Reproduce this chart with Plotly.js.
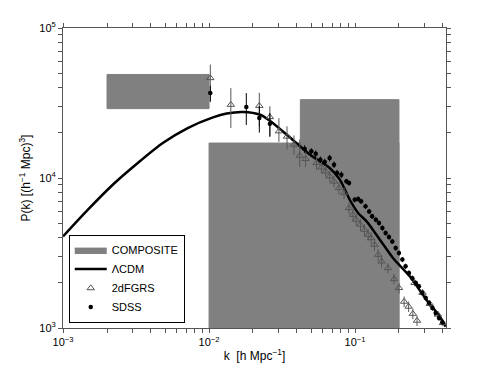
<!DOCTYPE html>
<html>
<head>
<meta charset="utf-8">
<script src="https://cdn.plot.ly/plotly-3.0.1.min.js"></script>
<style>
  html, body { margin: 0; padding: 0; background: #fff; }
  #plot { width: 490px; height: 370px; }
</style>
</head>
<body>
<div id="plot"></div>
<script>
// composite boxes (k range, P range)
var boxKmin = [0.002, 0.01, 0.0422];
var boxKmax = [0.01, 0.2, 0.2];
var boxPmin = [29000, 900, 900];
var boxPmax = [49000, 17100, 33300];

// LCDM model curve
var lcdmK = [0.001, 0.00148, 0.00219, 0.00325, 0.00482, 0.00714, 0.01064, 0.0132, 0.0171, 0.0224, 0.0262, 0.0359, 0.0492, 0.0671, 0.0787, 0.092, 0.105, 0.12, 0.148, 0.182, 0.237, 0.308, 0.38, 0.418];
var lcdmP = [4080, 6150, 9020, 12590, 17100, 21530, 25350, 26900, 27540, 26400, 24000, 18620, 14290, 11670, 9750, 7160, 5850, 5140, 3880, 2930, 2210, 1545, 1194, 1020];

// 2dFGRS points
var tdfK = [0.0102, 0.0141, 0.0221, 0.0261, 0.0301, 0.0342, 0.0382, 0.0418, 0.0459, 0.0545, 0.0589, 0.063, 0.0671, 0.0718, 0.0776, 0.0841, 0.091, 0.0968, 0.102, 0.109, 0.116, 0.123, 0.129, 0.136, 0.144, 0.152, 0.168, 0.185, 0.2, 0.217, 0.233, 0.249, 0.266, 0.256, 0.29, 0.325, 0.369, 0.4];
var tdfP = [46400, 30800, 30300, 25500, 20500, 18900, 16700, 14100, 13400, 12590, 11780, 11070, 10260, 9480, 8570, 7940, 6310, 5690, 5270, 4890, 4520, 4190, 3980, 3590, 3080, 2780, 2510, 2120, 1850, 1500, 1390, 1245, 1120, 2000, 1720, 1450, 1230, 1080];
var tdfErrUp = [0.23, 0.29, 0.22, 0.18, 0.22, 0.17, 0.15, 0.28, 0.12, 0.1, 0.09, 0.09, 0.09, 0.09, 0.09, 0.09, 0.09, 0.09, 0.09, 0.09, 0.09, 0.09, 0.09, 0.09, 0.09, 0.09, 0.08, 0.08, 0.08, 0.08, 0.08, 0.08, 0.08, 0.05, 0.05, 0.05, 0.05, 0.05];
var tdfErrDn = [0.31, 0.30, 0.27, 0.26, 0.15, 0.18, 0.15, 0.16, 0.12, 0.1, 0.09, 0.09, 0.09, 0.09, 0.09, 0.09, 0.09, 0.09, 0.09, 0.09, 0.09, 0.09, 0.09, 0.09, 0.09, 0.09, 0.08, 0.08, 0.08, 0.08, 0.08, 0.08, 0.08, 0.05, 0.05, 0.05, 0.05, 0.05];

// SDSS points
var sdssK = [0.0102, 0.018, 0.0221, 0.0261, 0.0452, 0.0502, 0.0538, 0.0579, 0.062, 0.067, 0.0718, 0.0753, 0.0806, 0.0873, 0.091, 0.0995, 0.105, 0.11, 0.118, 0.125, 0.131, 0.139, 0.146, 0.154, 0.162, 0.171, 0.18, 0.19, 0.2, 0.211, 0.222, 0.234, 0.247, 0.261, 0.274, 0.289, 0.305, 0.321, 0.339, 0.357, 0.376, 0.396];
var sdssP = [36850, 29700, 25100, 23000, 15600, 15060, 14520, 13240, 12790, 13590, 12270, 10800, 10520, 9500, 9270, 7170, 7250, 6990, 6470, 5990, 5550, 5270, 5010, 4640, 4300, 4040, 3780, 3410, 3160, 2860, 2580, 2330, 2150, 1995, 1895, 1710, 1585, 1470, 1360, 1260, 1165, 1092];
var sdssErr = [0.12, 0.24, 0.2, 0.18, 0.06, 0.05, 0.05, 0.05, 0.05, 0.05, 0.05, 0.05, 0.05, 0.04, 0.04, 0.04, 0.04, 0.04, 0.04, 0.04, 0.04, 0.04, 0.04, 0.04, 0.04, 0.04, 0.04, 0.04, 0.04, 0.04, 0.04, 0.04, 0.04, 0.04, 0.04, 0.04, 0.04, 0.04, 0.04, 0.04, 0.04, 0.04];

var decades = [0.001, 0.01, 0.1];
var decadeText = ['10<sup>−3</sup>', '10<sup>−2</sup>', '10<sup>−1</sup>'];
var yDecades = [1000, 10000, 100000];
var yDecadeText = ['10<sup>3</sup>', '10<sup>4</sup>', '10<sup>5</sup>'];

function logTicks(lo, hi, majors, majorText) {
  var vals = [], txt = [];
  for (var e = Math.round(Math.log10(lo)); Math.pow(10, e) <= hi * 1.0001; e++) {
    var d = Math.pow(10, e);
    for (var m = 1; m < 10; m++) {
      var v = d * m;
      if (v > hi * 1.0001) break;
      vals.push(v);
      txt.push(m === 1 ? majorText[majors.indexOf(d)] || '' : '');
    }
  }
  return { vals: vals, text: txt };
}
var xt = logTicks(0.001, 0.42, decades, decadeText);
var yt = logTicks(1000, 100000, yDecades, yDecadeText);

var boxX = [], boxY = [];
for (var i = 0; i < boxKmin.length; i++) {
  boxX.push(boxKmin[i], boxKmax[i], boxKmax[i], boxKmin[i], boxKmin[i], null);
  boxY.push(boxPmin[i], boxPmin[i], boxPmax[i], boxPmax[i], boxPmin[i], null);
}

var boxTrace = {
  x: boxX, y: boxY, type: 'scatter', mode: 'lines', fill: 'toself',
  fillcolor: '#808080', line: { color: '#808080', width: 1 },
  name: 'COMPOSITE', hoverinfo: 'skip'
};
var lcdmTrace = {
  x: lcdmK, y: lcdmP, type: 'scatter', mode: 'lines',
  line: { color: '#000', width: 2.5, shape: 'spline', smoothing: 0.8 },
  name: 'ΛCDM'
};
var tdfTrace = {
  x: tdfK, y: tdfP, type: 'scatter', mode: 'markers', name: '2dFGRS',
  marker: { symbol: 'triangle-up-open', size: 6.5, color: '#555', line: { width: 1 } },
  error_y: {
    type: 'data', symmetric: false,
    array: tdfP.map((p, i) => p * tdfErrUp[i]),
    arrayminus: tdfP.map((p, i) => p * tdfErrDn[i]),
    color: '#555', thickness: 1, width: 0
  }
};
var sdssTrace = {
  x: sdssK, y: sdssP, type: 'scatter', mode: 'markers', name: 'SDSS',
  marker: { symbol: 'circle', size: 4.5, color: '#000' },
  error_y: {
    type: 'data', array: sdssP.map((p, i) => p * sdssErr[i]),
    color: '#000', thickness: 1, width: 0
  }
};

var layout = {
  width: 490, height: 370,
  margin: { l: 63, r: 44, t: 28, b: 42 },
  paper_bgcolor: '#fff', plot_bgcolor: '#fff',
  font: { family: 'Liberation Sans, Arial, sans-serif', size: 11, color: '#000' },
  showlegend: true,
  legend: {
    x: 0.015, y: 0.018, xanchor: 'left', yanchor: 'bottom',
    bordercolor: '#000', borderwidth: 1, bgcolor: '#fff',
    font: { size: 11 }, itemwidth: 32, tracegroupgap: 0
  },
  xaxis: {
    type: 'log', range: [-3.0005, Math.log10(0.42)],
    tickvals: xt.vals, ticktext: xt.text, tickangle: 0, ticklabeloverflow: 'allow',
    ticks: 'outside', ticklen: 4, tickcolor: '#555',
    showline: true, linecolor: '#555', linewidth: 1, mirror: 'ticks',
    showgrid: false, zeroline: false,
    title: { text: 'k  [h Mpc<sup>−1</sup>]', font: { size: 12 }, standoff: 4 }
  },
  yaxis: {
    type: 'log', range: [3, 5],
    tickvals: yt.vals, ticktext: yt.text, ticklabeloverflow: 'allow',
    ticks: 'outside', ticklen: 4, tickcolor: '#555',
    showline: true, linecolor: '#555', linewidth: 1, mirror: 'ticks',
    showgrid: false, zeroline: false,
    title: { text: 'P(k) [(h<sup>−1</sup> Mpc)<sup>3</sup>]', font: { size: 12 }, standoff: 6 }
  }
};

Plotly.newPlot('plot', [boxTrace, lcdmTrace, tdfTrace, sdssTrace], layout, { displayModeBar: false, staticPlot: true });
</script>
</body>
</html>
